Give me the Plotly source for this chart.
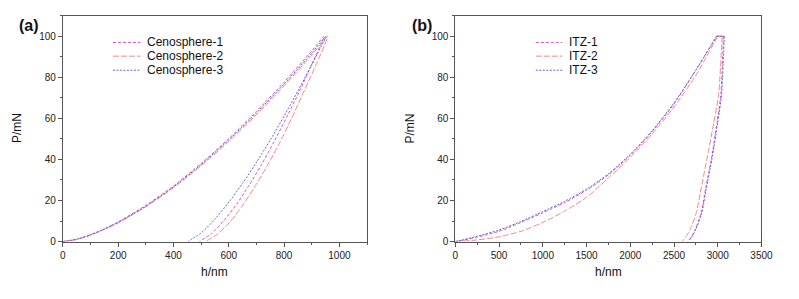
import plotly.graph_objects as go

W, H = 799, 299

# ---------------- Panel (a): Cenosphere ----------------
ceno_names = ["Cenosphere-1", "Cenosphere-2", "Cenosphere-3"]
ceno1_h = [0, 50, 100, 150, 200, 300, 400, 500, 600, 700, 800, 900, 945,
           900, 855, 809, 764, 719, 674, 629, 583, 538, 493]
ceno1_P = [0, 1.2, 3.4, 6.2, 9.6, 17.6, 27.1, 38.0, 50.1, 63.4, 77.6, 92.8, 100,
           86.2, 73.0, 60.5, 48.7, 37.6, 27.5, 18.3, 10.3, 3.9, 0]
ceno2_h = [0, 50, 100, 150, 200, 300, 400, 500, 600, 700, 800, 900, 958,
           914, 869, 825, 781, 737, 692, 648, 604, 559, 515]
ceno2_P = [0, 1.0, 3.1, 5.9, 9.1, 16.9, 26.2, 36.9, 48.8, 61.8, 75.8, 90.8, 100,
           85.7, 72.2, 59.4, 47.4, 36.4, 26.2, 17.2, 9.5, 3.5, 0]
ceno3_h = [0, 50, 100, 150, 200, 300, 400, 500, 600, 700, 800, 900, 952,
           902, 852, 802, 752, 702, 652, 602, 552, 502, 452]
ceno3_P = [0, 1.1, 3.2, 6.0, 9.3, 17.2, 26.6, 37.5, 49.5, 62.6, 76.7, 91.7, 100,
           86.7, 73.8, 61.6, 49.9, 39.0, 28.8, 19.5, 11.2, 4.4, 0]

# ---------------- Panel (b): ITZ (loading / hold / unloading) ----------------
itz_names = ["ITZ-1", "ITZ-2", "ITZ-3"]
itz1_load_h = [0, 100, 250, 500, 750, 1000, 1250, 1500, 1750, 2000, 2250, 2500, 2750, 2990]
itz1_load_P = [0, 0.8, 2.2, 5.0, 9.3, 14.0, 19.0, 25.0, 32.5, 42.0, 53.5, 67.0, 83.5, 100]
itz1_hold_h = [2990, 3065]
itz1_unload_h = [3065, 3035, 2992, 2925, 2862, 2812, 2745, 2695, 2655]
itz1_unload_P = [100, 71.6, 58.0, 39.8, 26.0, 14.2, 6.0, 2.0, 0]

itz2_load_h = [0, 250, 500, 750, 1000, 1250, 1500, 1750, 2000, 2250, 2500, 2750, 3000]
itz2_load_P = [0, 0.8, 2.3, 5.0, 9.3, 14.8, 21.5, 31.0, 41.0, 52.5, 65.5, 81.0, 100]
itz2_hold_h = [3000, 3050]
itz2_unload_h = [3050, 3010, 2955, 2875, 2810, 2756, 2685, 2630, 2588]
itz2_unload_P = [100, 71.6, 58.0, 39.8, 26.0, 14.2, 6.0, 2.0, 0]

itz3_load_h = [0, 100, 250, 500, 750, 1000, 1250, 1500, 1750, 2000, 2250, 2500, 2750, 2985]
itz3_load_P = [0, 1.0, 2.6, 5.6, 9.8, 14.6, 19.6, 25.5, 33.0, 42.5, 54.0, 67.5, 83.5, 100]
itz3_hold_h = [2985, 3075]
itz3_unload_h = [3075, 3044, 3000, 2932, 2870, 2819, 2750, 2700, 2662]
itz3_unload_P = [100, 71.6, 58.0, 39.8, 26.0, 14.2, 6.0, 2.0, 0]

hold_P = [100, 100]

x_ticks_a = [0, 200, 400, 600, 800, 1000]
x_ticks_b = [0, 500, 1000, 1500, 2000, 2500, 3000, 3500]
y_ticks = [0, 20, 40, 60, 80, 100]

colors = ["#cc55cc", "#f08a8a", "#6a62d0"]
dashes = ["3px,2px", "6px,2px", "2px,1.5px"]

def px(x):
    return x / W

def py(y):
    return 1 - y / H

fig = go.Figure()

for i, (h, P) in enumerate([(ceno1_h, ceno1_P), (ceno2_h, ceno2_P), (ceno3_h, ceno3_P)]):
    fig.add_trace(go.Scatter(x=h, y=P, mode="lines", name=ceno_names[i],
                             line=dict(color=colors[i], width=1, dash=dashes[i], shape="spline", smoothing=0.6),
                             xaxis="x", yaxis="y", showlegend=False))

itz_sets = [
    (itz1_load_h, itz1_load_P, itz1_hold_h, itz1_unload_h, itz1_unload_P),
    (itz2_load_h, itz2_load_P, itz2_hold_h, itz2_unload_h, itz2_unload_P),
    (itz3_load_h, itz3_load_P, itz3_hold_h, itz3_unload_h, itz3_unload_P),
]
for i, (lh, lP, hh, uh, uP) in enumerate(itz_sets):
    st = dict(color=colors[i], width=1, dash=dashes[i])
    fig.add_trace(go.Scatter(x=lh, y=lP, mode="lines", name=itz_names[i],
                             line=dict(st, shape="spline", smoothing=0.6),
                             xaxis="x2", yaxis="y2", showlegend=False))
    fig.add_trace(go.Scatter(x=hh, y=hold_P, mode="lines", name=itz_names[i],
                             line=dict(st, shape="linear"),
                             xaxis="x2", yaxis="y2", showlegend=False))
    fig.add_trace(go.Scatter(x=uh, y=uP, mode="lines", name=itz_names[i],
                             line=dict(st, shape="spline", smoothing=0.6),
                             xaxis="x2", yaxis="y2", showlegend=False))

axis_common = dict(showline=True, linecolor="#555", linewidth=1, mirror=True,
                   ticks="outside", ticklen=4, tickcolor="#555", tickwidth=1,
                   showgrid=False, zeroline=False,
                   tickfont=dict(family="Liberation Sans, Arial", size=10, color="#222"),
                   minor=dict(ticks="outside", ticklen=2, tickcolor="#555", showgrid=False))

ydom = [py(246.5), py(16)]
fig.update_layout(
    width=W, height=H,
    margin=dict(l=0, r=0, t=0, b=0),
    paper_bgcolor="white", plot_bgcolor="white",
    xaxis=dict(domain=[px(61), px(371)], range=[0, 1100], tickvals=x_ticks_a,
               minor_dtick=100, anchor="y", **axis_common),
    yaxis=dict(domain=ydom, range=[0, 110], tickvals=y_ticks, minor_dtick=10,
               anchor="x", **axis_common),
    xaxis2=dict(domain=[px(461), px(773)], range=[0, 3500], tickvals=x_ticks_b,
                minor_dtick=250, anchor="y2", **axis_common),
    yaxis2=dict(domain=ydom, range=[0, 110], tickvals=y_ticks, minor_dtick=10,
                anchor="x2", **axis_common),
    showlegend=False,
)

font_lbl = dict(family="Liberation Sans, Arial", size=12, color="#111")
ann = []
# axis titles
for cx in [216, 617]:
    ann.append(dict(x=px(cx), y=py(277.5), xref="paper", yref="paper", text="h/nm",
                    showarrow=False, font=font_lbl, xanchor="center", yanchor="middle"))
for cx in [15, 415]:
    ann.append(dict(x=px(cx), y=py(131), xref="paper", yref="paper", text="P/mN",
                    showarrow=False, font=font_lbl, textangle=-90, xanchor="center", yanchor="middle"))
# panel labels
for cx, t in [(27, "(a)"), (427, "(b)")]:
    ann.append(dict(x=px(cx), y=py(26), xref="paper", yref="paper", text="<b>%s</b>" % t,
                    showarrow=False, font=dict(family="Liberation Sans, Arial", size=16, color="#111"),
                    xanchor="center", yanchor="middle"))

# legends (line samples + text)
shapes = []
rows = [43.3, 57.3, 71.7]
for names, x0, x1, xt in [(ceno_names, 112, 140, 145), (itz_names, 543, 570, 575)]:
    for i, nm in enumerate(names):
        shapes.append(dict(type="line", xref="paper", yref="paper",
                           x0=px(x0), x1=px(x1), y0=py(rows[i]), y1=py(rows[i]),
                           line=dict(color=colors[i], width=1, dash=dashes[i])))
        ann.append(dict(x=px(xt), y=py(rows[i]), xref="paper", yref="paper", text=nm,
                        showarrow=False, font=font_lbl, xanchor="left", yanchor="middle"))

fig.update_layout(annotations=ann, shapes=shapes)
fig.write_html("out.html", config={"displayModeBar": False},
               post_script="document.body.style.margin='0';document.body.style.overflow='hidden';")
